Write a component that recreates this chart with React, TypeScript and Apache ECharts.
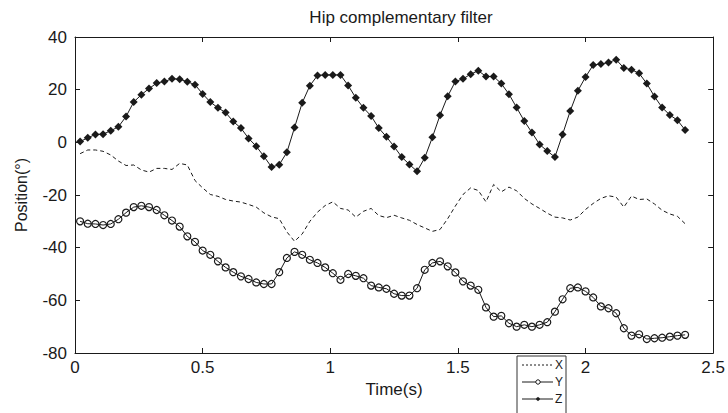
import React, { useEffect, useRef } from "react";
import * as echarts from "echarts";

const timeS = [0.02,0.05,0.08,0.11,0.14,0.17,0.2,0.23,0.26,0.29,0.32,0.35,0.38,0.41,0.44,0.47,0.5,0.53,0.56,0.59,0.62,0.65,0.68,0.71,0.74,0.77,0.8,0.83,0.86,0.89,0.92,0.95,0.98,1.01,1.04,1.07,1.1,1.13,1.16,1.19,1.22,1.25,1.28,1.31,1.34,1.37,1.4,1.43,1.46,1.49,1.52,1.55,1.58,1.61,1.64,1.67,1.7,1.73,1.76,1.79,1.82,1.85,1.88,1.91,1.94,1.97,2.0,2.03,2.06,2.09,2.12,2.15,2.18,2.21,2.24,2.27,2.3,2.33,2.36,2.39];

const xValues = [-4.3,-2.9,-2.9,-3.4,-4.8,-7.1,-8.8,-8.6,-10.5,-11.3,-9.9,-9.9,-10.3,-8,-8.6,-14.5,-17.3,-19.8,-20.5,-21.7,-22.3,-22.7,-23.6,-24.6,-26.8,-28.3,-29,-34,-37.6,-34.8,-30,-26.5,-24,-22.6,-25.1,-25.7,-28.4,-26.2,-25.1,-27.8,-28.6,-27.7,-28.7,-29.6,-31.2,-32.5,-33.8,-33.1,-29,-24.2,-19.8,-17.3,-18.3,-22.6,-16,-18.8,-17,-18.4,-21.3,-23.4,-25.1,-26.9,-28.4,-28.7,-29.5,-28.4,-25.5,-23.2,-21.3,-20.3,-20.8,-24.6,-20.4,-21.7,-21.5,-23.4,-25.8,-27.2,-28.1,-30.9];

const yValues = [-30.0,-30.9,-31.0,-31.4,-31.0,-29.2,-26.7,-24.6,-24.1,-24.6,-25.7,-27.7,-29.7,-32,-35.7,-37.8,-41.1,-42.7,-45.2,-47.5,-49.3,-50.9,-51.9,-53.2,-53.8,-53.8,-49.3,-43.9,-41.6,-42.7,-44.6,-45.8,-47.5,-49.7,-52.2,-50,-50.7,-51.6,-54.4,-55.1,-55.6,-57.5,-58.2,-58.2,-55.4,-48.4,-45.8,-45.2,-47.1,-49.4,-52.8,-54.4,-56,-62.7,-66.2,-65.9,-68.7,-70,-69.3,-70,-69.3,-68.3,-64.3,-59.6,-55.4,-55.1,-56.6,-58.9,-62.3,-63,-64.9,-70.6,-73.4,-72.9,-74.7,-74.4,-74.2,-73.8,-73.4,-73.1];

const zValues = [0.3,1.7,3,3.1,4.4,5.9,9.8,15.3,18.1,20.4,22.5,23.1,24.1,24,23,21.9,18.4,15.3,13.1,11.3,7.9,5.4,1.5,-1.5,-5.3,-9.4,-8.5,-3.8,5.6,15,21.5,25.4,25.6,25.6,25.6,21.6,16.9,13.1,10,5.4,2.1,-1.6,-5.6,-8.4,-11,-5.9,1.9,10.3,17.5,23.1,24.1,25.9,27.2,25,25,22.3,18.3,13.2,8.1,3.7,-0.8,-3.3,-5.6,3,11.9,19.6,24.8,29.4,29.7,30.3,31.4,28.2,27.6,26.2,22.3,17.4,13.2,10.4,8.4,4.7];

const seriesNames = ["X", "Y", "Z"];
const xTicks = { min: 0, max: 2.5, interval: 0.5 };
const yTicks = { min: -80, max: 40, interval: 20 };

const pair = (vals: number[]) => vals.map((v, i) => [timeS[i], v]);

export default function App() {
  const ref = useRef<HTMLDivElement>(null);
  useEffect(() => {
    if (!ref.current) return;
    const chart = echarts.init(ref.current, null, { renderer: "svg" });
    const font = "Liberation Sans, Arial, sans-serif";
    const ink = "#1a1a1a";
    const axisCommon = {
      axisLine: { show: true, onZero: false, lineStyle: { color: ink, width: 1 } },
      axisTick: { show: true, inside: true, length: 5, lineStyle: { color: ink } },
      splitLine: { show: false },
    };

    // legend box drawn as graphics
    const lx = 517, ly = 356, rowH = 17;
    const legendEls: any[] = [
      {
        type: "rect",
        shape: { x: lx, y: ly, width: 49, height: 66 },
        style: { fill: "#fff", stroke: "#333", lineWidth: 1 },
        z: 10,
      },
    ];
    seriesNames.forEach((name, i) => {
      const cy = ly + 9 + i * rowH;
      legendEls.push({
        type: "line",
        shape: { x1: lx + 5, y1: cy, x2: lx + 36, y2: cy },
        style: { stroke: ink, lineWidth: 1, lineDash: i === 0 ? [2, 2] : null },
        z: 11,
      });
      if (i === 1) {
        legendEls.push({
          type: "circle",
          shape: { cx: lx + 21, cy, r: 2.2 },
          style: { fill: "#fff", stroke: ink, lineWidth: 1 },
          z: 12,
        });
      }
      if (i === 2) {
        legendEls.push({
          type: "circle",
          shape: { cx: lx + 21, cy, r: 1.6 },
          style: { fill: ink, stroke: ink, lineWidth: 0.5 },
          z: 12,
        });
      }
      legendEls.push({
        type: "text",
        x: lx + 38,
        y: cy,
        style: {
          text: name,
          fill: ink,
          font: `12px ${font}`,
          textVerticalAlign: "middle",
          verticalAlign: "middle",
        },
        z: 12,
      });
    });

    chart.setOption({
      animation: false,
      backgroundColor: "#fff",
      textStyle: { fontFamily: font },
      title: {
        text: "Hip complementary filter",
        left: 396,
        textAlign: "center",
        top: 4,
        textStyle: { fontSize: 17, fontWeight: "normal", color: ink, fontFamily: font },
      },
      grid: { left: 75, right: 11, top: 37, bottom: 60, show: false },
      graphic: legendEls,
      xAxis: [
        {
          type: "value",
          ...xTicks,
          ...axisCommon,
          name: "Time(s)",
          nameLocation: "middle",
          nameGap: 26,
          nameTextStyle: { fontSize: 17, color: ink },
          axisLabel: { fontSize: 17, color: ink, margin: 6 },
        },
        {
          type: "value",
          position: "top",
          ...xTicks,
          ...axisCommon,
          axisLabel: { show: false },
        },
      ],
      yAxis: [
        {
          type: "value",
          ...yTicks,
          ...axisCommon,
          name: "Position(°)",
          nameLocation: "middle",
          nameGap: 46,
          nameTextStyle: { fontSize: 16, color: ink },
          axisLabel: { fontSize: 17, color: ink, margin: 8 },
        },
        {
          type: "value",
          position: "right",
          ...yTicks,
          ...axisCommon,
          axisLabel: { show: false },
        },
      ],
      series: [
        {
          name: "X",
          type: "line",
          data: pair(xValues),
          showSymbol: false,
          symbol: "none",
          color: ink,
          lineStyle: { color: ink, width: 1, type: [4, 3] },
        },
        {
          name: "Y",
          type: "line",
          data: pair(yValues),
          symbol: "circle",
          symbolSize: 7,
          color: ink,
          itemStyle: { color: "rgba(255,255,255,0)", borderColor: ink, borderWidth: 1.2 },
          lineStyle: { color: ink, width: 1 },
        },
        {
          name: "Z",
          type: "line",
          data: pair(zValues),
          symbol: "diamond",
          symbolSize: 8,
          color: ink,
          itemStyle: { color: ink },
          lineStyle: { color: ink, width: 1 },
        },
      ],
    });
    return () => chart.dispose();
  }, []);
  return (
    <div
      ref={ref}
      style={{ position: "fixed", left: 0, top: 0, width: 728, height: 413 }}
    />
  );
}
